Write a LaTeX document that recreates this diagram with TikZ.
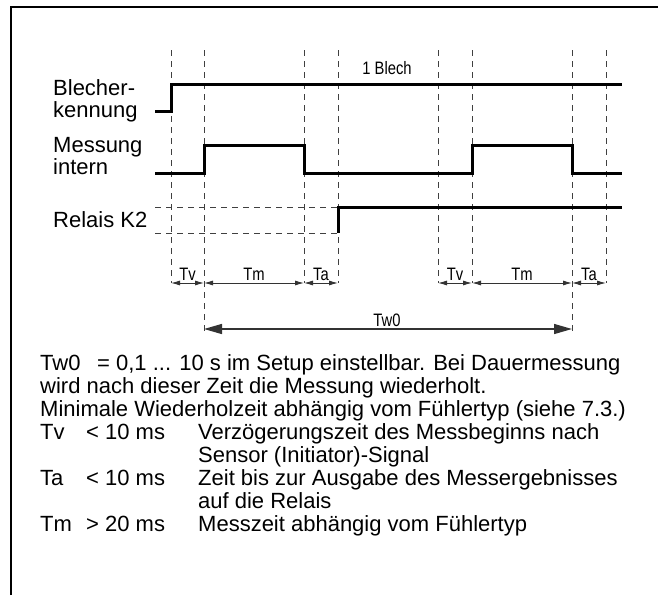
\documentclass[tikz,border=0pt]{standalone}
\usepackage{fontspec}
\setmainfont{Liberation Sans}
\newfontfamily\narrowfont[FakeStretch=0.82]{Liberation Sans}
\usetikzlibrary{arrows.meta,calc}
\begin{document}
\begin{tikzpicture}[x=1pt,y=-1pt,
  sig/.style={line width=3pt, line cap=butt, line join=miter},
  guide/.style={line width=0.9pt, draw=black!75, dash pattern=on 6pt off 5pt},
  dimline/.style={line width=0.9pt, draw=black!80, {Latex[length=9pt,width=5pt]}-{Latex[length=9pt,width=5pt]}},
  bigdim/.style={line width=1.4pt, draw=black!80, {Triangle[length=18pt,width=10pt]}-{Triangle[length=18pt,width=10pt]}},
  txt/.style={font=\fontsize{22}{22}\selectfont, inner sep=0pt, anchor=base west},
  lab/.style={font=\fontsize{22}{22}\selectfont, inner sep=0pt, anchor=base west, align=left},
  small/.style={font=\narrowfont\fontsize{18}{18}\selectfont, inner sep=0pt, anchor=base}]
\useasboundingbox (0,0) rectangle (658,595);
% frame
\draw[line width=1.5pt] (11,595) -- (11,7) -- (658,7);

% time ticks
\foreach \n/\x in {1/171,2/204,3/304,4/338,5/438,6/472,7/572,8/606}
  \coordinate (t\n) at (\x,50);

% guide lines
\foreach \n in {1,3,4,5,6,8}
  \draw[guide] (t\n) -- ++(0,233);
\foreach \n in {2,7}
  \draw[guide] (t\n) -- ++(0,282);
\draw[guide] (155,207) -- (t4 |- 0,207);
\draw[guide] (155,233) -- (t4 |- 0,233);

% signal labels
\node[lab] (bk1) at (53,95) {Blecher-};
\node[lab] (bk2) at (53,117) {kennung};
\node[lab] (mi1) at (53,152) {Messung};
\node[lab] (mi2) at (53,174) {intern};
\node[lab] (rk) at (53,227) {Relais K2};
\node[small] (blech) at (387,74) {1 Blech};

% signals
\draw[sig] (155,111) -- (t1 |- 0,111) -- (t1 |- 0,84) -- (622,84);
\draw[sig] (155,173) -- (t2 |- 0,173) -- (t2 |- 0,145) -- (t3 |- 0,145) -- (t3 |- 0,173)
  -- (t6 |- 0,173) -- (t6 |- 0,145) -- (t7 |- 0,145) -- (t7 |- 0,173) -- (622,173);
\draw[sig] (t4 |- 0,233) -- (t4 |- 0,207) -- (622,207);

% dimension lines
\foreach \a/\b/\l in {1/2/Tv,2/3/Tm,3/4/Ta,5/6/Tv,6/7/Tm,7/8/Ta}{
  \draw[dimline] (t\a |- 0,283) -- (t\b |- 0,283);
  \node[small] (lbl\a) at ($(t\a |- 0,280)!0.5!(t\b |- 0,280)$) {\l};
}
\draw[bigdim] (t2 |- 0,329) -- (t7 |- 0,329);
\node[small] (tw0) at (387,326) {Tw0};

% text block
\node[txt] (l1a) at (40,370) {Tw0};
\node[txt] (l1b) at (97,370) {= 0,1 ... 10 s im Setup einstellbar. Bei Dauermessung};
\node[txt] (l2) at (40,393) {wird nach dieser Zeit die Messung wiederholt.};
\node[txt] (l3) at (40,416) {Minimale Wiederholzeit abhängig vom Fühlertyp (siehe 7.3.)};
\node[txt] (l4a) at (40,439) {Tv};
\node[txt] (l4b) at (86,439) {< 10 ms};
\node[txt] (l4c) at (198,439) {Verzögerungszeit des Messbeginns nach};
\node[txt] (l5) at (198,462) {Sensor (Initiator)-Signal};
\node[txt] (l6a) at (40,485) {Ta};
\node[txt] (l6b) at (86,485) {< 10 ms};
\node[txt] (l6c) at (198,485) {Zeit bis zur Ausgabe des Messergebnisses};
\node[txt] (l7) at (198,508) {auf die Relais};
\node[txt] (l8a) at (40,531) {Tm};
\node[txt] (l8b) at (86,531) {> 20 ms};
\node[txt] (l8c) at (198,531) {Messzeit abhängig vom Fühlertyp};
\end{tikzpicture}
\end{document}
